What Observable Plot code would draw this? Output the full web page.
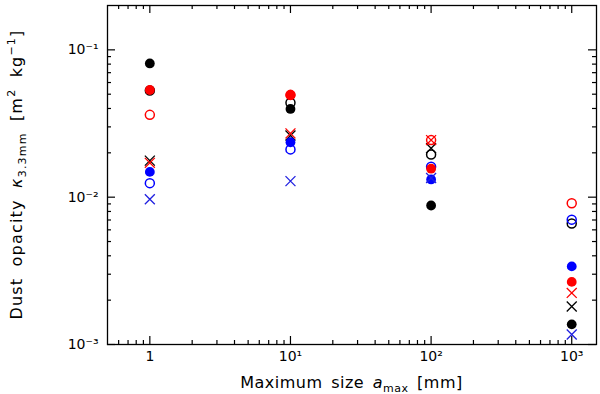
<!DOCTYPE html>
<html><head><meta charset="utf-8">
<script src="https://cdn.jsdelivr.net/npm/d3@7"></script>
<script src="https://cdn.jsdelivr.net/npm/@observablehq/plot@0.6"></script>
<style>
body{margin:0;background:#fff}
svg{font-family:"DejaVu Sans",sans-serif}
</style>
</head><body><div id="chart"></div>
<script>
// maximum grain size (mm)
const sizes = [1, 10, 100, 1000];
// dust opacity kappa_3.3mm (m^2/kg) per model
const blackOpen   = [0.0530, 0.0437, 0.0195, 0.00663];
const blackFilled = [0.0809, 0.0397, 0.00878, 0.00137];
const blackCross  = [0.0177, 0.0262, 0.0215, 0.00181];
const blueOpen    = [0.01245, 0.0211, 0.0161, 0.00704];
const blueFilled  = [0.01485, 0.0236, 0.0132, 0.00339];
const blueCross   = [0.00969, 0.01285, 0.0135, 0.00117];
const redOpen     = [0.0362, 0.0495, 0.0244, 0.0091];
const redFilled   = [0.0534, 0.0492, 0.0156, 0.00266];
const redCross    = [0.0171, 0.0271, 0.0244, 0.00224];

// tick values
const xMajor = [1, 10, 100, 1000];
const xMinor = [0.6,0.7,0.8,0.9, 2,3,4,5,6,7,8,9, 20,30,40,50,60,70,80,90, 200,300,400,500,600,700,800,900];
const yMajor = [0.001, 0.01, 0.1];
const yMinor = [0.002,0.003,0.004,0.005,0.006,0.007,0.008,0.009, 0.02,0.03,0.04,0.05,0.06,0.07,0.08,0.09];
const xTickLabels = ["1", "10¹", "10²", "10³"];
const yTickLabels = ["10⁻³", "10⁻²", "10⁻¹"];

const series = [
  {values: blackOpen, color: "black", kind: "open"},
  {values: blackFilled, color: "black", kind: "filled"},
  {values: blackCross, color: "black", kind: "cross"},
  {values: blueOpen, color: "#0000ff", kind: "open"},
  {values: blueFilled, color: "#0000ff", kind: "filled"},
  {values: blueCross, color: "#2020e0", kind: "cross"},
  {values: redOpen, color: "#ff0000", kind: "open"},
  {values: redFilled, color: "#ff0000", kind: "filled"},
  {values: redCross, color: "#ff0000", kind: "cross"}
];

const W = 600, H = 394;
const mT = 5, mB = 50, mL = 107, mR = 4;
const innerH = H - mT - mB, innerW = W - mL - mR;
const majorLen = 8, minorLen = 4;

const pointMarks = series.map(s => {
  const rows = sizes.map((a, i) => ({a, k: s.values[i]}));
  if (s.kind === "open") return Plot.dot(rows, {x: "a", y: "k", r: 4.5, stroke: s.color, strokeWidth: 1.5, fill: "none"});
  if (s.kind === "filled") return Plot.dot(rows, {x: "a", y: "k", r: 4.9, fill: s.color, stroke: "none"});
  return Plot.dot(rows, {x: "a", y: "k", r: 4.6, symbol: "times", stroke: s.color, strokeWidth: 1.3});
});

const tickStyle = {stroke: "black", strokeWidth: 1.2};
const chart = Plot.plot({
  width: W, height: H,
  marginTop: mT, marginBottom: mB, marginLeft: mL, marginRight: mR,
  style: {fontFamily: "DejaVu Sans, sans-serif", background: "#fff"},
  x: {type: "log", domain: [0.5, 1500]},
  y: {type: "log", domain: [0.001, 0.2]},
  marks: [
    // bottom / top ticks (inward)
    Plot.tickX(xMajor, {x: d => d, insetTop: innerH - majorLen, ...tickStyle}),
    Plot.tickX(xMinor, {x: d => d, insetTop: innerH - minorLen, ...tickStyle}),
    Plot.tickX(xMajor, {x: d => d, insetBottom: innerH - majorLen, ...tickStyle}),
    Plot.tickX(xMinor, {x: d => d, insetBottom: innerH - minorLen, ...tickStyle}),
    // left / right ticks (inward)
    Plot.tickY(yMajor, {y: d => d, insetRight: innerW - majorLen, ...tickStyle}),
    Plot.tickY(yMinor, {y: d => d, insetRight: innerW - minorLen, ...tickStyle}),
    Plot.tickY(yMajor, {y: d => d, insetLeft: innerW - majorLen, ...tickStyle}),
    Plot.tickY(yMinor, {y: d => d, insetLeft: innerW - minorLen, ...tickStyle}),
    Plot.axisX({ticks: xMajor, tickSize: 0, tickPadding: 7, fontSize: 14,
      tickFormat: d => xTickLabels[xMajor.indexOf(d)], label: null}),
    Plot.axisY({ticks: yMajor, tickSize: 0, tickPadding: 9, fontSize: 14,
      tickFormat: d => yTickLabels[yMajor.indexOf(d)], label: null}),
    Plot.frame({stroke: "black", strokeWidth: 1.3}),
    ...pointMarks
  ]
});

const svg = d3.select(chart);
// x title
const xt = svg.append("text")
  .attr("x", mL + innerW / 2).attr("y", H - 6)
  .attr("text-anchor", "middle").attr("font-size", 16).attr("fill", "black")
  .attr("letter-spacing", 0.5).attr("word-spacing", 3);
xt.append("tspan").text("Maximum size ");
xt.append("tspan").attr("font-style", "italic").text("a");
xt.append("tspan").attr("font-size", 11).attr("dy", 4).text("max");
xt.append("tspan").attr("dy", -4).text(" [mm]");

// y title
const yt = svg.append("text")
  .attr("transform", `translate(22,${mT + innerH / 2}) rotate(-90)`)
  .attr("text-anchor", "middle").attr("font-size", 16).attr("fill", "black")
  .attr("letter-spacing", 1.2).attr("word-spacing", 5);
yt.append("tspan").text("Dust opacity ");
yt.append("tspan").attr("font-style", "italic").text("κ");
yt.append("tspan").attr("font-size", 11).attr("dy", 4).text("3.3mm");
yt.append("tspan").attr("dy", -4).text(" [m");
yt.append("tspan").attr("font-size", 11).attr("dy", -7).text("2");
yt.append("tspan").attr("dy", 7).text(" kg");
yt.append("tspan").attr("font-size", 11).attr("dy", -7).text("−1");
yt.append("tspan").attr("dy", 7).text("]");

document.getElementById("chart").appendChild(chart);
</script>
</body></html>
